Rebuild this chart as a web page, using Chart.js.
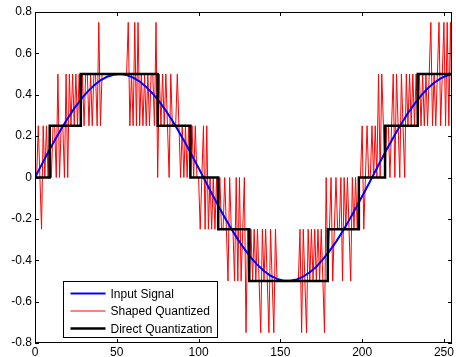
<!DOCTYPE html>
<html>
<head>
<meta charset="utf-8">
<script src="https://cdn.jsdelivr.net/npm/chart.js@4.4.0/dist/chart.umd.min.js"></script>
<style>
  html, body { margin: 0; padding: 0; background: #fff; }
</style>
</head>
<body>
<canvas id="myChart" width="456" height="357"></canvas>
<script>
// input signal, read every 4 samples
var inputStep = 4;
var inputSignal = [
  0, .061, .121, .179, .234, .286, .334, .377, .414, .445, .470, .487, .497,
  .500, .495, .483, .464, .438, .405, .367, .323, .274, .221, .165, .106, .046,
  -.015, -.076, -.135, -.193, -.248, -.299, -.345, -.387, -.422, -.452, -.475, -.490, -.499,
  -.499, -.493, -.479, -.458, -.431, -.396, -.356, -.311, -.261, -.207, -.150, -.091, -.031,
  .030, .091, .150, .207, .261, .311, .356, .396, .430, .458, .479, .493, .499
];

// shaped quantizer output, one value per sample (0..255)
var shapedQuantized = [
  0, 0, .25, 0, -.25, .25, 0, .25, 0, .25,
  0, .25, .25, 0, .5, 0, .25, .25, 0, .5,
  0, .5, .25, .5, .25, .5, .25, .5, .25, .5,
  .25, .5, .5, .25, .5, .25, .5, .5, .25, .75,
  .25, .5, .5, .5, .5, .5, .5, .5, .5, .5,
  .5, .5, .5, .5, .5, .5, .5, .75, .25, .5,
  .25, .75, .25, .75, .25, .5, .25, .5, .25, .5,
  .25, .5, .5, .25, .75, 0, .5, .25, .5, .25,
  .5, .25, 0, .5, .25, .25, .25, .5, .25, 0,
  .25, 0, .25, 0, .25, 0, .25, 0, .25, 0,
  0, -.25, 0, .25, -.25, .25, -.25, 0, -.25, 0,
  -.25, 0, -.25, 0, -.25, -.25, 0, -.25, -.5, 0,
  -.25, -.25, -.5, 0, -.5, 0, -.5, -.25, 0, -.75,
  -.25, -.5, -.25, -.5, -.25, -.5, -.25, -.5, -.75, -.25,
  -.5, -.25, -.5, -.75, -.25, -.5, -.75, -.25, -.5, -.5,
  -.5, -.5, -.5, -.5, -.5, -.5, -.5, -.5, -.5, -.5,
  -.5, -.5, -.25, -.75, -.25, -.5, -.75, -.25, -.5, -.25,
  -.5, -.25, -.5, -.25, -.5, -.25, -.5, -.75, 0, -.5,
  -.25, 0, -.5, -.25, 0, -.25, -.25, 0, -.5, 0,
  -.25, 0, -.25, -.5, 0, -.25, 0, -.25, 0, 0,
  .25, -.25, 0, .25, 0, 0, .25, 0, .25, 0,
  .5, 0, .5, .25, 0, .25, .25, 0, .25, .5,
  0, .5, .25, 0, .5, .25, 0, .5, .25, .5,
  .25, .5, .25, .5, .25, .5, .25, .5, .25, .5,
  .25, .5, .75, .25, .5, .25, .5, .75, .25, .5,
  .75, .25, .75, .25, .75, .25
];

// direct quantization: sample where each step starts, and its level
var directN = [0, 9, 28, 75, 95, 112, 131, 179, 198, 214, 234, 255];
var directLevel = [0, .25, .5, .25, 0, -.25, -.5, -.25, 0, .25, .5, .5];

var xTicks = [0, 50, 100, 150, 200, 250];
var yTicks = [-0.8, -0.6, -0.4, -0.2, 0, 0.2, 0.4, 0.6, 0.8];
var seriesLabels = ['Input Signal', 'Shaped Quantized', 'Direct Quantization'];

var FONT = 'Liberation Sans, Arial, Helvetica, sans-serif';

var boxPlugin = {
  id: 'box',
  afterDatasetsDraw: function(chart) {
    var ctx = chart.ctx, a = chart.chartArea;
    var xs = chart.scales.x, ys = chart.scales.y;
    ctx.save();
    ctx.strokeStyle = '#000';
    ctx.lineWidth = 1;
    ctx.beginPath();
    xTicks.forEach(function(v) {
      var px = Math.round(xs.getPixelForValue(v)) + 0.5;
      ctx.moveTo(px, a.bottom); ctx.lineTo(px, a.bottom - 4);
      ctx.moveTo(px, a.top); ctx.lineTo(px, a.top + 4);
    });
    yTicks.forEach(function(v) {
      var py = Math.round(ys.getPixelForValue(v)) + 0.5;
      ctx.moveTo(a.left, py); ctx.lineTo(a.left + 4, py);
      ctx.moveTo(a.right, py); ctx.lineTo(a.right - 4, py);
    });
    ctx.stroke();
    ctx.strokeRect(Math.round(a.left) + 0.5, Math.round(a.top) + 0.5,
      Math.round(a.right - a.left) - 1, Math.round(a.bottom - a.top) - 1);
    ctx.restore();
  }
};

var legendPlugin = {
  id: 'boxLegend',
  afterDraw: function(chart) {
    var ctx = chart.ctx, a = chart.chartArea;
    var x0 = Math.round(a.left) + 28.5, y0 = Math.round(a.bottom) - 61.5, w = 154, h = 56;
    ctx.save();
    ctx.fillStyle = '#fff';
    ctx.fillRect(x0, y0, w, h);
    ctx.strokeStyle = '#000';
    ctx.lineWidth = 1;
    ctx.strokeRect(x0, y0, w, h);
    ctx.font = '12px ' + FONT;
    ctx.textBaseline = 'middle';
    ctx.fillStyle = '#000';
    chart.data.datasets.forEach(function(ds, i) {
      var yy = y0 + 12 + i * 17.5;
      ctx.strokeStyle = ds.borderColor;
      ctx.lineWidth = ds.borderWidth;
      ctx.beginPath();
      ctx.moveTo(x0 + 7, yy);
      ctx.lineTo(x0 + 42, yy);
      ctx.stroke();
      ctx.fillText(ds.label, x0 + 47, yy + 1);
    });
    ctx.restore();
  }
};

var ctx = document.getElementById('myChart').getContext('2d');
var myChart = new Chart(ctx, {
  type: 'line',
  data: {
    datasets: [{
        label: seriesLabels[0],
        data: inputSignal.map(function(v, i) { return {x: i * inputStep, y: v}; }),
        borderColor: '#0000ff',
        borderWidth: 2,
        pointRadius: 0,
        order: 1
      }, {
        label: seriesLabels[1],
        data: shapedQuantized.map(function(v, i) { return {x: i, y: v}; }),
        borderColor: '#ff0000',
        borderWidth: 1,
        pointRadius: 0,
        order: 2
      }, {
        label: seriesLabels[2],
        data: directN.map(function(n, i) { return {x: n, y: directLevel[i]}; }),
        borderColor: '#000000',
        borderWidth: 2.5,
        stepped: true,
        pointRadius: 0,
        order: 0
      }
    ]
  },
  options: {
    responsive: false,
    animation: false,
    devicePixelRatio: 1,
    layout: { padding: { left: 0, right: 3, top: 12, bottom: 0 } },
    plugins: {
      legend: { display: false },
      tooltip: { enabled: false }
    },
    scales: {
      x: {
        type: 'linear',
        min: 0,
        max: 255,
        grid: { display: false, drawTicks: false },
        border: { display: false },
        afterBuildTicks: function(s) { s.ticks = xTicks.map(function(v) { return {value: v}; }); },
        afterFit: function(s) { s.height = 14; },
        ticks: { color: '#000', padding: 2, maxRotation: 0, font: { family: FONT, size: 12 } }
      },
      y: {
        min: -0.8,
        max: 0.8,
        grid: { display: false, drawTicks: false },
        border: { display: false },
        afterBuildTicks: function(s) { s.ticks = yTicks.map(function(v) { return {value: v}; }); },
        afterFit: function(s) { s.width = 35; },
        ticks: {
          color: '#000', padding: 3, font: { family: FONT, size: 12 },
          callback: function(v) { return String(Math.round(v * 10) / 10); }
        }
      }
    }
  },
  plugins: [boxPlugin, legendPlugin]
});
</script>
</body>
</html>
